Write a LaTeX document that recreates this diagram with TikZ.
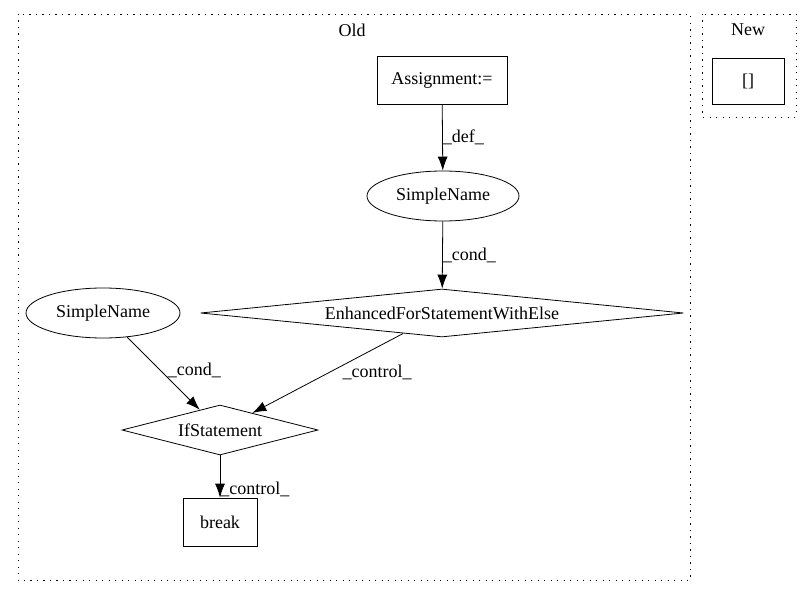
\documentclass[tikz,border=0pt]{standalone}
\usepackage{fontspec}
\setmainfont{Liberation Serif}
\usepackage{tikz}
\usetikzlibrary{positioning}
\usetikzlibrary{shapes.geometric,arrows.meta}
\tikzset{
    cluster/.style={draw, line width=0.9pt, dash pattern=on 1.2pt off 5.3pt},
    box/.style={draw, line width=0.8pt, rectangle, inner sep=0pt},
    nameNode/.style={draw, line width=0.8pt, ellipse, inner sep=0pt, minimum width=152pt, minimum height=50pt},
    decision/.style={draw, line width=0.8pt, diamond, aspect=10, inner sep=0pt},
    flow/.style={draw, line width=0.8pt, -{Latex[length=14pt,width=10pt]}},
    lbl/.style={inner sep=0pt, font=\fontsize{18}{21}\selectfont}
}

\begin{document}
\begin{tikzpicture}[x=1pt, y=-1pt, font=\fontsize{18}{21}\selectfont]
			\useasboundingbox (0,0) rectangle (811,596);
			\draw[cluster] (18,14) rectangle (690,580);
			\node[lbl] (oldLabel) at (352,30) {Old};
			\draw[cluster] (702,14) rectangle (796,117);
			\node[lbl] (newLabel) at (748,30) {New};
			\node[box, minimum width=72pt, minimum height=46pt] (emptyList) at (748,81) {[]};
			\node[box, minimum width=130pt, minimum height=48pt] (assign) at (442,80) {Assignment:=};
			\node[nameNode] (nameA) at (443,196) {SimpleName};
			\node[decision, minimum width=483pt, minimum height=48pt] (loopElse) at (442,313) {EnhancedForStatementWithElse};
			\node[nameNode, minimum width=154pt] (nameB) at (103,313) {SimpleName};
			\node[decision, aspect=4, minimum width=196pt, minimum height=50pt] (ifStmt) at (220,430) {IfStatement};
			\node[box, minimum width=74pt, minimum height=48pt] (brk) at (220,522) {break};
			%\draw[flow] (assign) -- (loopElse);
			\draw[flow] (assign) -- (nameA) node[lbl, pos=0.5, anchor=west] {\_def\_};
			\draw[flow] (nameA) -- (loopElse) node[lbl, pos=0.5, anchor=west] {\_cond\_};
			\draw[flow] (nameB) -- (ifStmt) node[lbl, pos=0.46, anchor=west, xshift=7pt] {\_cond\_};
			\draw[flow] (loopElse) -- (ifStmt) node[lbl, pos=0.49, anchor=west, xshift=13pt] {\_control\_};
			\draw[flow] (ifStmt) -- (brk) node[lbl, pos=0.8, anchor=west] {\_control\_};
		\end{tikzpicture}
\end{document}
